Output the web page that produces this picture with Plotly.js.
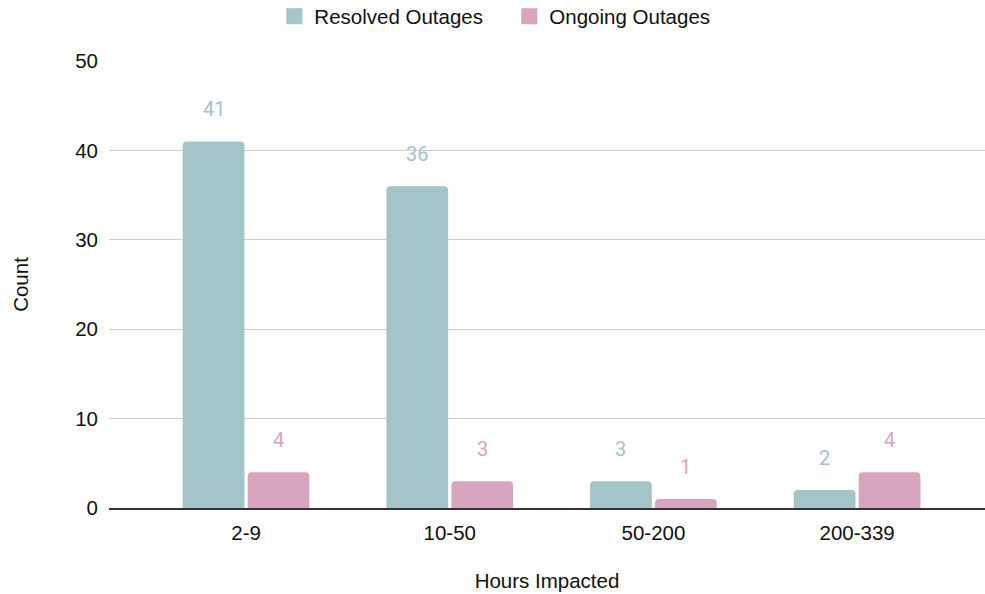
<!DOCTYPE html>
<html>
<head>
<meta charset="utf-8">
<script src="https://cdn.plot.ly/plotly-3.0.1.min.js"></script>
<style>
  html, body { margin: 0; padding: 0; background: #ffffff; }
  #chart { width: 985px; height: 594px; }
</style>
</head>
<body>
<div id="chart"></div>
<script>
// Outage counts grouped by how many hours were impacted
const hourBuckets = ['2-9', '10-50', '50-200', '200-339'];
const resolvedOutages = [41, 36, 3, 2];
const ongoingOutages = [4, 3, 1, 4];

const seriesNames = ['Resolved Outages', 'Ongoing Outages'];
const seriesColors = ['#a3c4c9', '#d8a5bf'];
const yTicks = [0, 10, 20, 30, 40, 50];

const BARGAP = 0.362;
const BARGROUPGAP = 0.05;
const axisFont = { family: 'Arial, "Liberation Sans", sans-serif', size: 20.5, color: '#111111' };

function barTrace(name, values, color) {
  return {
    type: 'bar',
    name: name,
    x: hourBuckets,
    y: values,
    marker: { color: color, cornerradius: 4, line: { width: 0 } },
    showlegend: false,
    hoverinfo: 'x+y+name'
  };
}

// legend-only entries so the swatches can be drawn larger than the default bar icon
function legendTrace(name, color) {
  return {
    type: 'scatter',
    mode: 'markers',
    name: name,
    x: [null],
    y: [null],
    marker: { symbol: 'square', size: 16, color: color, line: { width: 0 } },
    showlegend: true,
    hoverinfo: 'skip'
  };
}

const data = [
  barTrace(seriesNames[0], resolvedOutages, seriesColors[0]),
  barTrace(seriesNames[1], ongoingOutages, seriesColors[1]),
  legendTrace(seriesNames[0], seriesColors[0]),
  legendTrace(seriesNames[1], seriesColors[1])
];

// value labels floating above each bar, placed at the bar's slot inside its group
const slotOffset = (1 - BARGAP) / 4;
const annotations = [];
[resolvedOutages, ongoingOutages].forEach(function (values, s) {
  values.forEach(function (v, i) {
    annotations.push({
      x: i + (s === 0 ? -slotOffset : slotOffset),
      y: v,
      xref: 'x',
      yref: 'y',
      text: String(v),
      showarrow: false,
      yanchor: 'middle',
      yshift: 32,
      font: { family: 'Roboto, sans-serif', size: 20, color: seriesColors[s] }
    });
  });
});

const layout = {
  width: 985,
  height: 594,
  margin: { l: 109, r: 0, t: 61, b: 86, autoexpand: false },
  paper_bgcolor: '#ffffff',
  plot_bgcolor: '#ffffff',
  barmode: 'group',
  bargap: BARGAP,
  bargroupgap: BARGROUPGAP,
  font: axisFont,
  showlegend: true,
  legend: {
    orientation: 'h',
    x: 0.457,
    xanchor: 'center',
    y: 1.1,
    yanchor: 'middle',
    entrywidth: 190,
    font: axisFont,
    itemclick: false,
    itemdoubleclick: false
  },
  xaxis: {
    type: 'category',
    range: [-0.673, 3.628],
    showgrid: false,
    showline: true,
    linecolor: '#333333',
    linewidth: 1.5,
    ticks: '',
    tickfont: axisFont,
    ticklabelstandoff: 6,
    zeroline: false,
    title: { text: 'Hours Impacted', font: axisFont, standoff: 30 }
  },
  yaxis: {
    range: [0, 50],
    tickvals: yTicks,
    ticktext: yTicks.map(String),
    showgrid: true,
    gridcolor: '#cccccc',
    gridwidth: 1,
    zeroline: false,
    showline: false,
    ticks: '',
    tickfont: axisFont,
    ticklabelstandoff: 10,
    title: { text: 'Count', font: axisFont, standoff: 41 }
  },
  annotations: annotations
};

Plotly.newPlot('chart', data, layout, { displayModeBar: false, staticPlot: false });
</script>
</body>
</html>
